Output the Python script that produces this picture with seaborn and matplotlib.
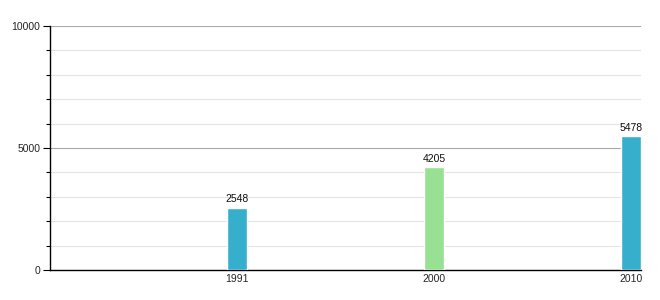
import matplotlib
matplotlib.use("Agg")
import matplotlib.pyplot as plt
import seaborn as sns
import pandas as pd
from matplotlib.ticker import MultipleLocator

years = ["1991", "2000", "2010"]
values = [2548, 4205, 5478]
colors = ["#36afcc", "#98e192", "#36afcc"]

sns.set_theme(style="white")
plt.rcParams["font.family"] = ["Liberation Sans", "DejaVu Sans"]

df = pd.DataFrame({"year": years, "value": values})

fig = plt.figure(figsize=(6.6, 3.0), dpi=100)
ax = fig.add_axes([50 / 660, 1 - 270 / 300, (641 - 50) / 660, (270 - 26) / 300])

sns.barplot(data=df, x="year", y="value", hue="year", palette=colors,
            width=0.1, legend=False, ax=ax, saturation=1, zorder=3)

ax.set_xlim(-0.95, 2.05)
ax.set_ylim(0, 10000)
ax.yaxis.set_major_locator(MultipleLocator(5000))
ax.yaxis.set_minor_locator(MultipleLocator(1000))
ax.grid(which="major", axis="y", color="#a8a8a8", linewidth=0.8, zorder=0)
ax.grid(which="minor", axis="y", color="#e4e4e4", linewidth=0.8, zorder=0)
ax.grid(which="major", axis="x", visible=False)

for s in ["top", "right"]:
    ax.spines[s].set_visible(False)
for s in ["left", "bottom"]:
    ax.spines[s].set_color("black")
    ax.spines[s].set_linewidth(1.0)

ax.tick_params(axis="y", which="major", length=5, width=0.8, color="black",
               labelsize=7.5, pad=2, left=True)
ax.tick_params(axis="y", which="minor", length=3, width=0.8, color="black", left=True)
ax.tick_params(axis="x", length=0, labelsize=7.5, pad=3)
ax.set_xlabel("")
ax.set_ylabel("")

for i, v in enumerate(values):
    ax.text(i, v + 150, str(v), ha="center", va="bottom", fontsize=7.5, color="#111111")

fig.savefig("out.png", dpi=100)
